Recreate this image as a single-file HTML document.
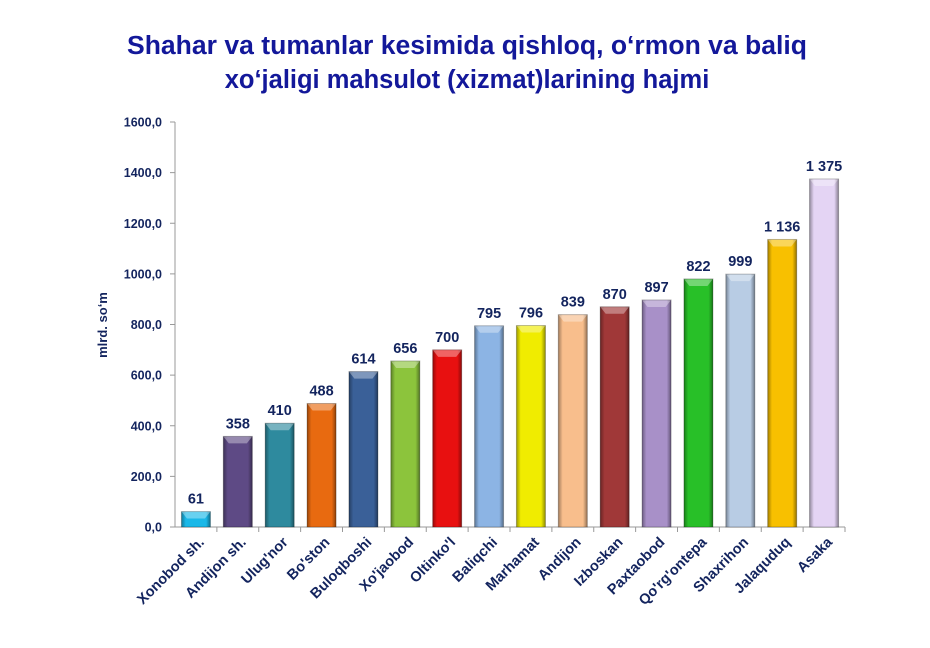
<!DOCTYPE html><html><head><meta charset="utf-8"><style>body{margin:0;background:#fff}svg{display:block;font-family:"Liberation Sans",Arial,sans-serif;font-weight:bold}</style></head><body>
<svg width="930" height="648" viewBox="0 0 930 648">
<defs>
<linearGradient id="sh" x1="0" x2="1" y1="0" y2="0"><stop offset="0" stop-color="#000" stop-opacity="0.35"/><stop offset="0.15" stop-color="#000" stop-opacity="0"/><stop offset="0.85" stop-color="#000" stop-opacity="0"/><stop offset="1" stop-color="#000" stop-opacity="0.4"/></linearGradient>
</defs>
<text x="467" y="54" text-anchor="middle" font-size="25.5" fill="#13189a" textLength="680" lengthAdjust="spacingAndGlyphs">Shahar va tumanlar kesimida qishloq, o‘rmon va baliq</text>
<text x="467" y="88" text-anchor="middle" font-size="25.5" fill="#13189a">xo‘jaligi mahsulot (xizmat)larining hajmi</text>
<g stroke="#999" stroke-width="1" fill="none">
<line x1="175" y1="122" x2="175" y2="527"/><line x1="175" y1="527" x2="845" y2="527"/>
</g>
<g id="y" font-size="12.5" fill="#13245e" text-anchor="end"></g>
<text transform="translate(107,325) rotate(-90)" text-anchor="middle" font-size="13" fill="#13245e">mlrd. so‘m</text>
<g id="b"></g>
</svg>
<script>
var ns="http://www.w3.org/2000/svg";
function el(t,a,p,tx){var e=document.createElementNS(ns,t);for(var k in a)e.setAttribute(k,a[k]);if(tx)e.textContent=tx;p.appendChild(e);return e;}
var svg=document.querySelector("svg"),g=document.getElementById("y"),b=document.getElementById("b");
for(var i=0;i<=8;i++){var y=527-i*405/8;el("line",{x1:170,x2:175,y1:y,y2:y,stroke:"#999"},svg);el("text",{x:162,y:y+4.5},g,(i*200).toFixed(1).replace(".",","));}
var d=[["Xonobod sh.",61,61,"#1ab8e8"],["Andijon sh.",358,358,"#5e4a85"],["Ulug'nor",410,410,"#2e8a9e"],["Bo'ston",488,488,"#e86a10"],["Buloqboshi",614,614,"#3a6098"],["Xo'jaobod",656,656,"#8cc43c"],["Oltinko'l",700,700,"#e81010"],["Baliqchi",795,795,"#8cb4e4"],["Marhamat",796,796,"#f0ec00"],["Andijon",839,839,"#f8be8c"],["Izboskan",870,870,"#a03838"],["Paxtaobod",897,897,"#a890c8"],["Qo'rg'ontepa",822,980,"#28c028"],["Shaxrihon",999,999,"#b8cce4"],["Jalaquduq",1136,1136,"#f8c000"],["Asaka",1375,1375,"#e4d4f4"]];
var w=670/16;
d.forEach(function(r,i){var cx=175+w*(i+0.5),top=527-r[2]*405/1600,h=527-top;
el("line",{x1:175+w*(i+1),x2:175+w*(i+1),y1:527,y2:532,stroke:"#999"},svg);
el("rect",{x:cx-14.5,y:top,width:29,height:h,fill:r[3]},b);
el("rect",{x:cx-14.5,y:top,width:29,height:h,fill:"url(#sh)"},b);
el("polygon",{points:(cx-14.5)+","+top+" "+(cx+14.5)+","+top+" "+(cx+9)+","+(top+7)+" "+(cx-9)+","+(top+7),fill:"#fff","fill-opacity":0.35},b);
el("rect",{x:cx-14.5,y:top,width:29,height:h,fill:"none",stroke:"#000","stroke-opacity":0.25},b);
var lab=r[1]>=1000?String(r[1]).replace(/(\d)(\d{3})$/,"$1 $2"):String(r[1]);
el("text",{x:cx,y:top-8,"text-anchor":"middle","font-size":14.5,fill:"#13245e"},b,lab);
el("text",{transform:"translate("+(cx+9)+",543) rotate(-45)","text-anchor":"end","font-size":14.5,fill:"#13245e"},b,r[0]);
});
</script>
</body></html>
